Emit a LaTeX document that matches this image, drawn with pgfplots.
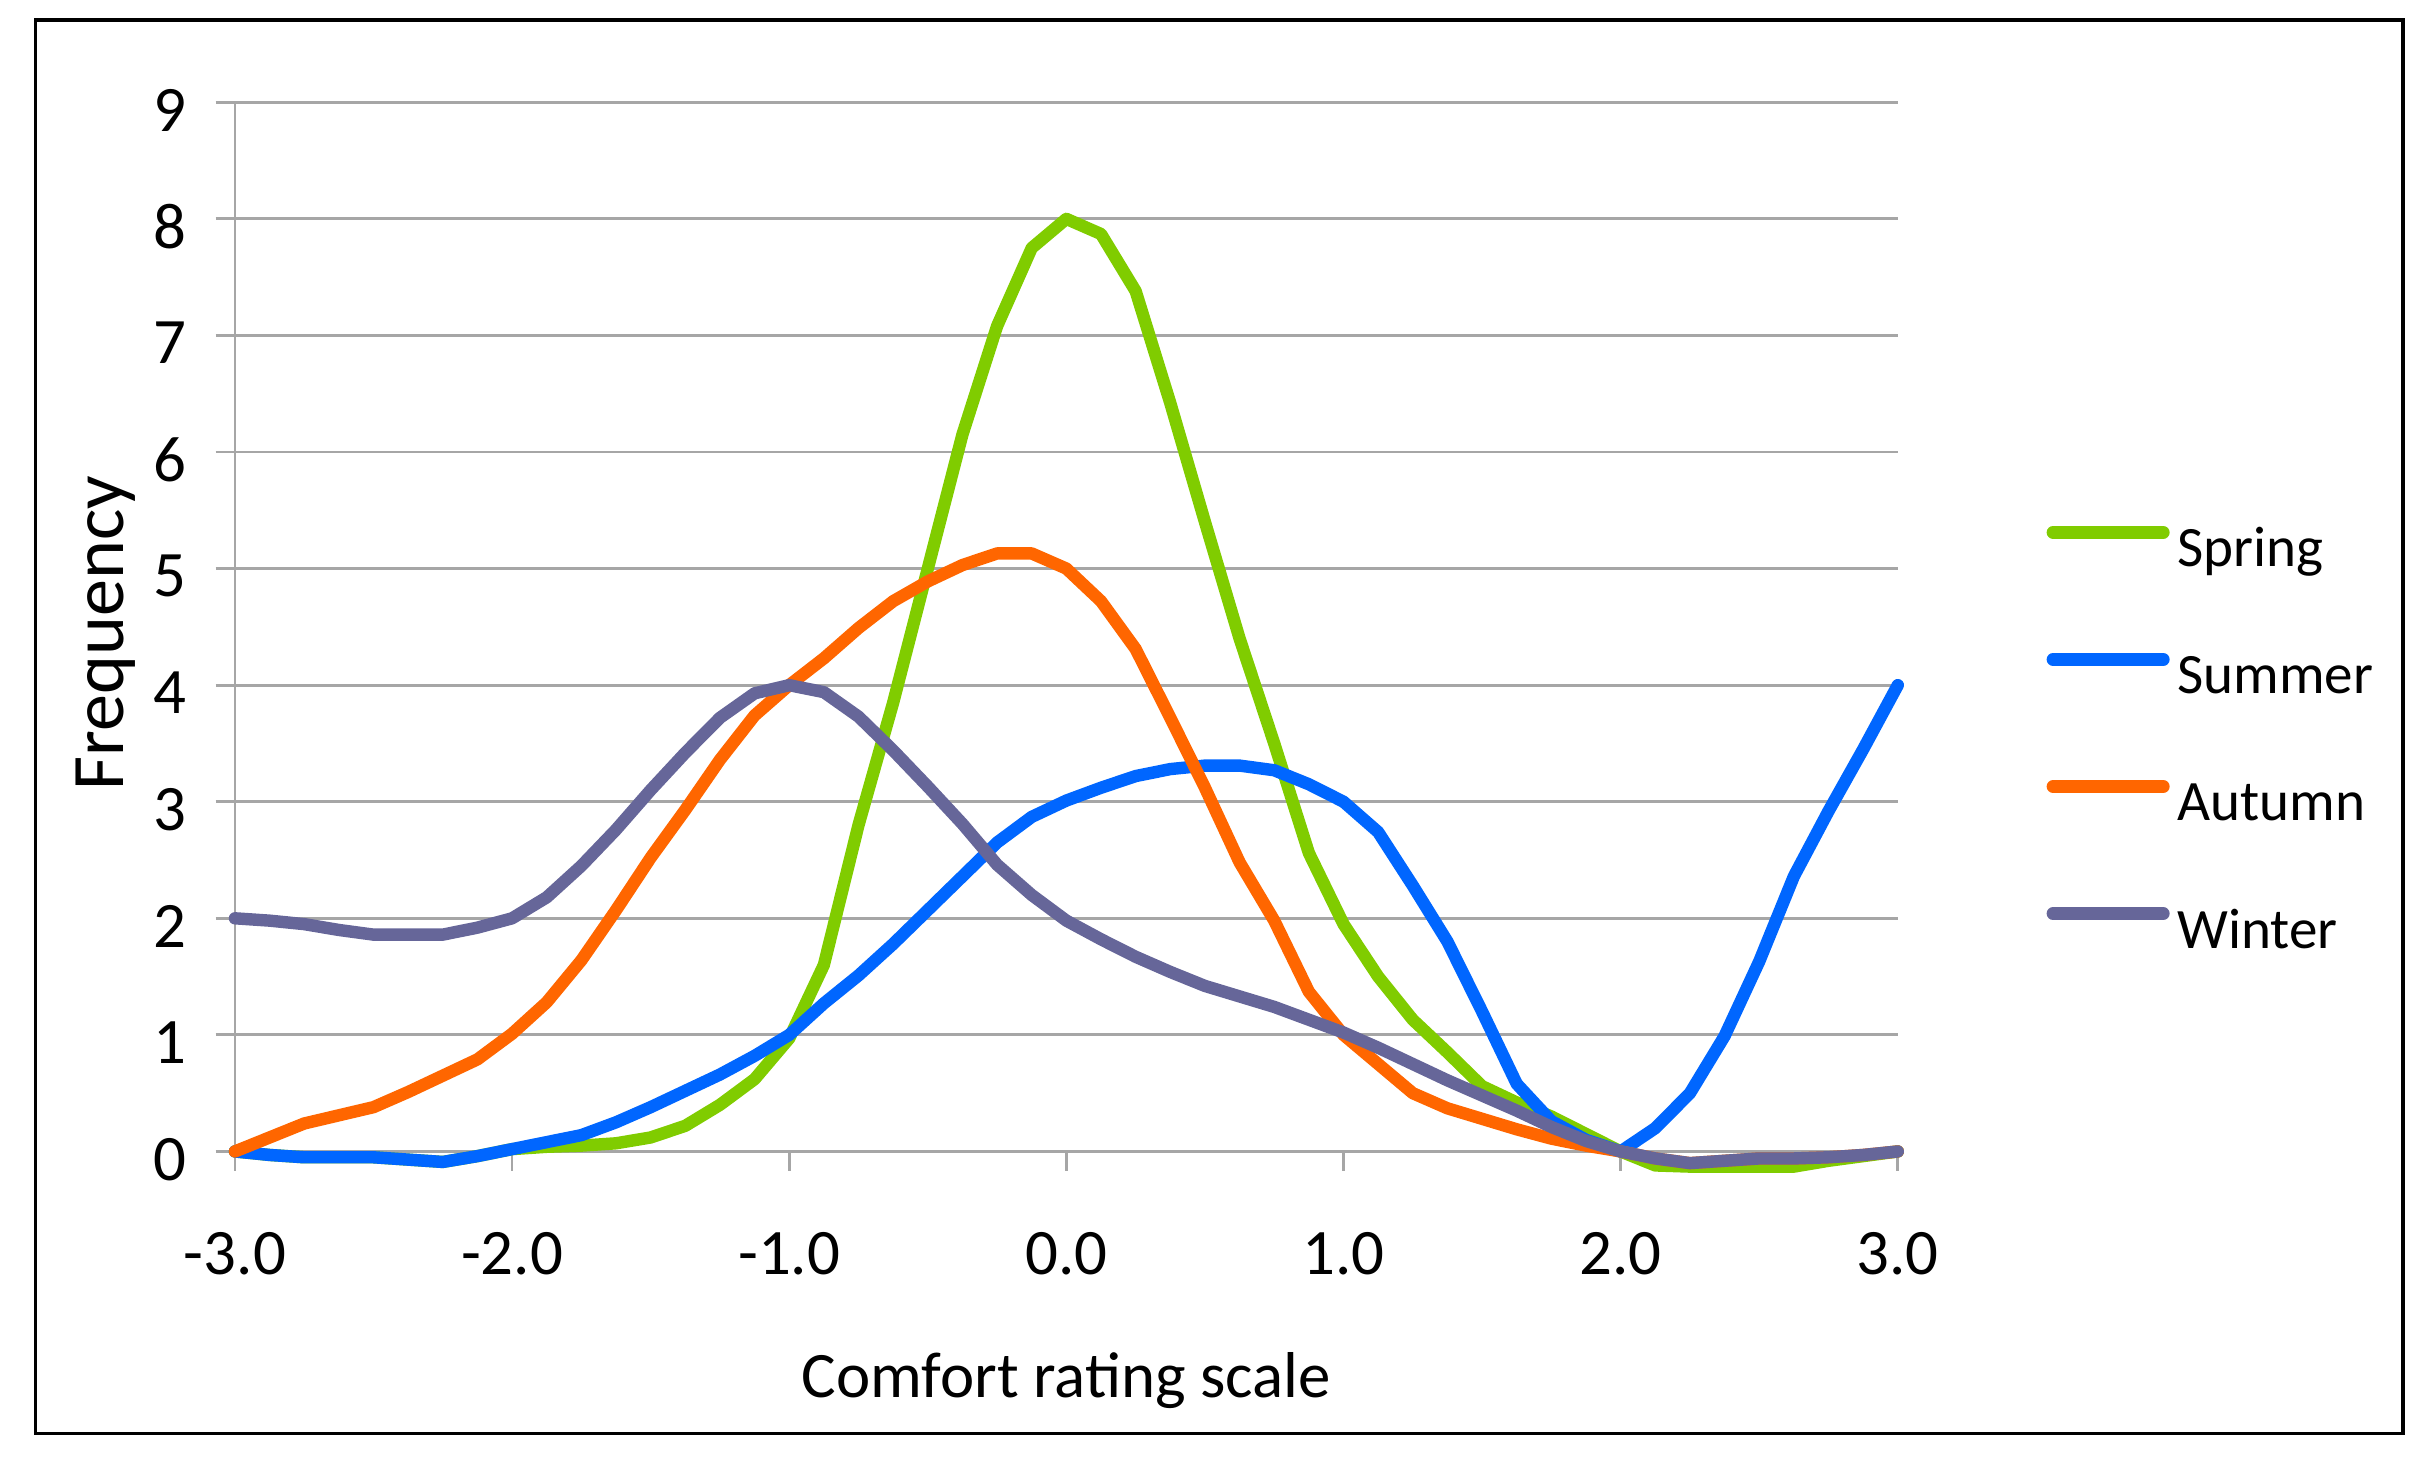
\documentclass[border=0pt]{standalone}
\usepackage{fontspec}
\setmainfont{Carlito}
\usepackage{pgfplots}
\pgfplotsset{compat=1.18}
\usepackage{pgfplotstable}
\definecolor{cspring}{HTML}{80CC00}
\definecolor{csummer}{HTML}{0066FF}
\definecolor{cautumn}{HTML}{FF6600}
\definecolor{cwinter}{HTML}{666699}
\definecolor{cgrid}{HTML}{A6A6A6}
\pgfplotstableread{
x      spring  summer  autumn  winter
-3.000  0.00   0.00    0.00    2.00
-2.875 -0.03  -0.03    0.12    1.98
-2.750 -0.05  -0.05    0.24    1.95
-2.625 -0.05  -0.05    0.31    1.90
-2.500 -0.05  -0.05    0.38    1.86
-2.375 -0.07  -0.07    0.51    1.86
-2.250 -0.09  -0.09    0.65    1.86
-2.125 -0.04  -0.04    0.79    1.92
-2.000  0.02   0.02    1.01    2.00
-1.875  0.04   0.08    1.28    2.18
-1.750  0.05   0.14    1.64    2.45
-1.625  0.07   0.25    2.07    2.76
-1.500  0.12   0.38    2.52    3.10
-1.375  0.22   0.52    2.93    3.42
-1.250  0.40   0.66    3.36    3.72
-1.125  0.62   0.82    3.74    3.93
-1.000  0.97   1.00    4.00    4.00
-0.875  1.60   1.27    4.23    3.94
-0.750  2.80   1.51    4.49    3.73
-0.625  3.85   1.78    4.72    3.44
-0.500  5.00   2.07    4.89    3.13
-0.375  6.15   2.36    5.03    2.81
-0.250  7.08   2.65    5.13    2.46
-0.125  7.75   2.87    5.13    2.20
 0.000  8.00   3.01    5.00    1.98
 0.125  7.87   3.12    4.72    1.82
 0.250  7.38   3.22    4.31    1.67
 0.375  6.42   3.28    3.72    1.54
 0.500  5.40   3.31    3.12    1.42
 0.625  4.40   3.31    2.48    1.33
 0.750  3.50   3.27    1.98    1.24
 0.875  2.56   3.15    1.37    1.13
 1.000  1.95   3.00    1.00    1.02
 1.125  1.50   2.74    0.75    0.89
 1.250  1.13   2.28    0.50    0.75
 1.375  0.85   1.80    0.37    0.61
 1.500  0.56   1.20    0.28    0.48
 1.625  0.42   0.58    0.19    0.35
 1.750  0.30   0.26    0.11    0.21
 1.875  0.15   0.10    0.05    0.09
 2.000  0.00   0.00    0.00    0.00
 2.125 -0.12   0.20   -0.06   -0.06
 2.250 -0.13   0.50   -0.10   -0.10
 2.375 -0.13   0.99   -0.08   -0.08
 2.500 -0.13   1.63   -0.06   -0.06
 2.625 -0.13   2.36   -0.06   -0.06
 2.750 -0.08   2.92   -0.05   -0.05
 2.875 -0.04   3.45   -0.03   -0.03
 3.000  0.00   4.00    0.00    0.00
}\datatable
\begin{document}
\begin{tikzpicture}
\begin{axis}[
  at={(0,0)}, anchor=south west,
  scale only axis, width=536.5bp, height=338.5bp,
  xmin=-3, xmax=3, ymin=0, ymax=9,
  clip=false,
  axis x line*=bottom, axis y line*=left,
  axis line style={cgrid, line width=0.9bp},
  xtick={-3,-2,-1,0,1,2,3},
  xticklabels={-3.0,-2.0,-1.0,0.0,1.0,2.0,3.0},
  ytick={0,1,2,3,4,5,6,7,8,9},
  yticklabels={0,1,2,3,4,5,6,7,8,9},
  tick align=outside, major tick length=6.2bp,
  tick style={cgrid, line width=0.9bp},
  ymajorgrids, major grid style={cgrid, line width=0.9bp},
  tick label style={font=\fontsize{21}{25}\selectfont},
  xticklabel shift=16.5bp,
  yticklabel shift=6bp,
  yticklabel style={yshift=-2.5bp},
  xlabel={Comfort rating scale},
  ylabel={Frequency},
  xlabel style={font=\fontsize{21}{25}\selectfont, at={(axis description cs:0.5,-0.2349)}, anchor=base},
  ylabel style={font=\fontsize{24}{28}\selectfont, at={(axis description cs:-0.0779,0.494)}, anchor=center},
  legend style={at={(1.0895,0.3889)}, anchor=west, draw=none, fill=none,
    inner sep=0pt, outer sep=0pt, row sep=19bp,
    font=\fontsize{18.5}{22}\selectfont,
    nodes={inner sep=2.5bp, text height=13bp, text depth=4bp},
    /tikz/every even column/.append style={column sep=3bp}},
  legend cell align=left,
  legend image code/.code={\draw[#1, line width=4.2bp, line cap=round] (0bp,6.6bp) -- (35.5bp,6.6bp);},
  every axis plot/.append style={line width=4bp, line join=round, line cap=round, mark=none},
]
\addplot[cspring] table[x=x, y=spring] {\datatable};
\addlegendentry{Spring}
\addplot[csummer] table[x=x, y=summer] {\datatable};
\addlegendentry{Summer}
\addplot[cautumn] table[x=x, y=autumn] {\datatable};
\addlegendentry{Autumn}
\addplot[cwinter] table[x=x, y=winter] {\datatable};
\addlegendentry{Winter}
\end{axis}
\draw[black, line width=1.1bp] (-64.3bp,-91bp) rectangle (699.5bp,365bp);
\path (-75.8bp,-99.9bp) rectangle (708.2bp,371.5bp);
\end{tikzpicture}
\end{document}
